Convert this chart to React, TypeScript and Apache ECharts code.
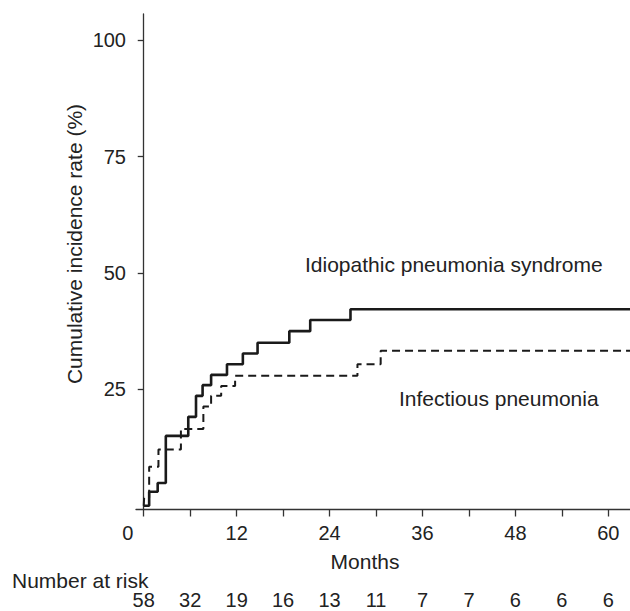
import React, { useEffect, useRef } from "react";
import * as echarts from "echarts";

// Idiopathic pneumonia syndrome (solid): [month, cumulative %]
const ipsMonths = [0, 0.7, 1.8, 2.85, 5.75, 6.75, 7.6, 8.7, 10.75, 12.8, 14.7, 18.8, 21.5, 26.7, 62.8];
const ipsValues = [0, 3.0, 4.9, 15.0, 19.1, 23.6, 25.9, 28.1, 30.4, 32.7, 35.0, 37.5, 39.9, 42.2, 42.2];

// Infectious pneumonia (dashed)
const infMonths = [0, 0.05, 0.7, 1.9, 4.8, 7.7, 8.7, 10.0, 11.8, 27.6, 30.6, 62.8];
const infValues = [0, 1.7, 8.4, 12.1, 16.5, 21.3, 23.6, 25.7, 27.9, 30.4, 33.3, 33.3];

const xTickValues = [0, 6, 12, 18, 24, 30, 36, 42, 48, 54, 60];
const xLabelValues = [0, 12, 24, 36, 48, 60];
const yLabelValues = [25, 50, 75, 100];
const riskMonths = [0, 6, 12, 18, 24, 30, 36, 42, 48, 54, 60];
const riskNumbers = [58, 32, 19, 16, 13, 11, 7, 7, 6, 6, 6];

const FONT = "'Liberation Sans', Arial, Helvetica, sans-serif";
const TXT = "#222";

export default function App() {
  const ref = useRef<HTMLDivElement>(null);
  useEffect(() => {
    if (!ref.current) return;
    const chart = echarts.init(ref.current, null, { renderer: "svg" });
    const ips = ipsMonths.map((m, i) => [m, ipsValues[i]]);
    const inf = infMonths.map((m, i) => [m, infValues[i]]);
    const riskMap: Record<number, number> = {};
    riskMonths.forEach((m, i) => (riskMap[m] = riskNumbers[i]));
    chart.setOption({
      animation: false,
      backgroundColor: "#fff",
      textStyle: { fontFamily: FONT },
      grid: { left: 136, right: 0, top: 14, bottom: 101.5, containLabel: false, outerBoundsMode: "none" },
      xAxis: [
        {
          type: "value",
          min: -1,
          max: 62.8,
          position: "bottom",
          axisLine: { onZero: false, lineStyle: { color: "#333", width: 1.3 } },
          axisTick: { show: true, customValues: xTickValues, length: 7, lineStyle: { color: "#333", width: 1.3 } },
          axisLabel: {
            customValues: xLabelValues,
            margin: 13,
            fontSize: 20,
            color: TXT,
            fontFamily: FONT,
            formatter: (v: number) => (v === 0 ? "{z|0}" : String(v)),
            rich: { z: { fontSize: 20, color: TXT, fontFamily: FONT, padding: [0, 32, 0, 0] } },
          },
          splitLine: { show: false },
        },
        {
          type: "value",
          min: -1,
          max: 62.8,
          position: "bottom",
          offset: 68,
          axisLine: { show: false },
          axisTick: { show: false },
          axisLabel: {
            customValues: riskMonths,
            margin: 12,
            fontSize: 20,
            color: TXT,
            fontFamily: FONT,
            formatter: (v: number) => String(riskMap[v] ?? ""),
          },
          splitLine: { show: false },
        },
      ],
      yAxis: {
        type: "value",
        min: -0.8,
        max: 105.6,
        axisLine: { show: true, onZero: true, lineStyle: { color: "#333", width: 1.3 } },
        axisTick: { show: true, customValues: yLabelValues, length: 6, lineStyle: { color: "#333", width: 1.3 } },
        axisLabel: { customValues: yLabelValues, margin: 10, fontSize: 20, color: TXT, fontFamily: FONT },
        splitLine: { show: false },
      },
      series: [
        {
          type: "line",
          name: "Idiopathic pneumonia syndrome",
          data: ips,
          step: "end",
          symbol: "none",
          lineStyle: { color: "#1a1a1a", width: 2.6, type: "solid" },
          z: 3,
        },
        {
          type: "line",
          name: "Infectious pneumonia",
          data: inf,
          step: "end",
          symbol: "none",
          lineStyle: { color: "#1a1a1a", width: 2, type: [8, 5] },
          z: 2,
        },
      ],
      graphic: [
        {
          type: "text",
          x: 74,
          y: 244,
          rotation: Math.PI / 2,
          style: {
            text: "Cumulative incidence rate (%)",
            fontSize: 21,
            fontFamily: FONT,
            fill: TXT,
            align: "center",
            verticalAlign: "middle",
          },
        },
        {
          type: "text",
          x: 365,
          y: 561,
          style: { text: "Months", fontSize: 21, fontFamily: FONT, fill: TXT, align: "center", verticalAlign: "middle" },
        },
        {
          type: "text",
          x: 12,
          y: 580,
          style: { text: "Number at risk", fontSize: 21, fontFamily: FONT, fill: TXT, align: "left", verticalAlign: "middle" },
        },
        {
          type: "text",
          x: 305,
          y: 264,
          style: {
            text: "Idiopathic pneumonia syndrome",
            fontSize: 21,
            fontFamily: FONT,
            fill: TXT,
            align: "left",
            verticalAlign: "middle",
          },
        },
        {
          type: "text",
          x: 399,
          y: 398,
          style: { text: "Infectious pneumonia", fontSize: 21, fontFamily: FONT, fill: TXT, align: "left", verticalAlign: "middle" },
        },
      ],
    });
    return () => chart.dispose();
  }, []);
  return (
    <div
      ref={ref}
      style={{ position: "absolute", left: 0, top: 0, width: 630, height: 611 }}
    />
  );
}
